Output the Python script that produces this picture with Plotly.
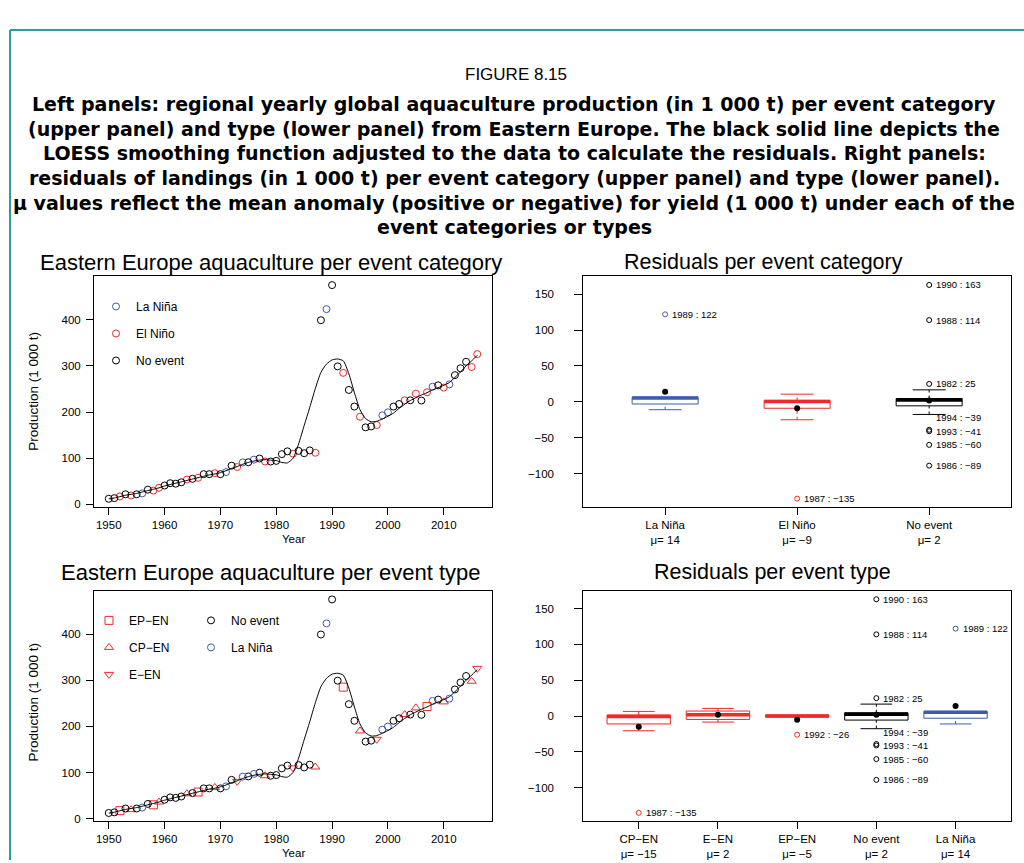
import plotly.graph_objects as go

FONT = "Liberation Sans, Arial, Helvetica, sans-serif"
CAPFONT = "DejaVu Sans, Liberation Sans, Arial, sans-serif"
W, H = 1024, 863
BLUE = "#3D5CB0"
RED = "#EE2A2A"
BLACK = "#000000"
TEAL = "#2E9E9A"

# ---------------- data ----------------
years = list(range(1950, 2017))
production = [12.3, 13.7, 17.3, 22.0, 19.5, 22.0, 24.0, 32.0, 30.0, 36.0,
              41.0, 46.0, 45.0, 48.0, 54.0, 55.5, 57.7, 65.6, 65.6, 67.7,
              65.6, 70.0, 84.0, 81.0, 91.0, 91.5, 97.0, 99.5, 93.0, 93.0,
              94.4, 109.0, 115.0, 110.0, 116.0, 111.0, 117.0, 112.0, 399.0, 423.0,
              475.0, 299.0, 285.0, 248.0, 212.0, 190.0, 167.0, 169.0, 172.0, 193.0,
              199.5, 212.0, 217.5, 225.5, 225.5, 240.0, 225.0, 243.0, 255.0, 258.0,
              253.0, 260.0, 280.0, 295.0, 309.0, 297.6, 325.6]
event_type = ["N", "N", "EP", "N", "CP", "N", "LN", "N", "EP", "CP",
              "N", "N", "N", "N", "CP", "N", "EP", "N", "N", "CP",
              "N", "LN", "N", "E", "LN", "N", "LN", "N", "CP", "N",
              "N", "N", "N", "E", "N", "N", "N", "CP", "N", "LN",
              "N", "N", "EP", "N", "N", "CP", "N", "N", "E", "LN",
              "LN", "N", "N", "CP", "N", "CP", "N", "EP", "LN", "N",
              "CP", "LN", "N", "N", "N", "CP", "E"]
loess_fit = [12, 14, 17, 20, 22, 24, 27, 30, 33, 36,
             40, 43, 46, 49, 52, 55, 58, 61, 64, 66,
             69, 73, 78, 82, 87, 91, 94, 96, 97, 96,
             95, 91, 90, 100, 131, 171, 210, 251, 286, 304,
             313, 315, 311, 283, 242, 205, 186, 179, 180, 185,
             191, 198, 208, 217, 225, 231, 237, 242, 248, 253,
             258, 264, 275, 287, 300, 311, 323]

type_names = {"EP": "EP\u2212EN", "CP": "CP\u2212EN", "E": "E\u2212EN",
              "N": "No event", "LN": "La Niña"}
type_to_category = {"EP": "El Niño", "CP": "El Niño", "E": "El Niño",
                    "N": "No event", "LN": "La Niña"}

# residual boxplots: per event category
cat_labels = ["La Niña", "El Niño", "No event"]
cat_q1 = [-3.0, -9.0, -5.6]
cat_median = [5.5, 0.5, 2.5]
cat_q3 = [6.5, 2.0, 4.6]
cat_lower = [-11.0, -25.0, -17.6]
cat_upper = [6.5, 10.7, 16.7]
cat_mean = [14, -9, 2]
cat_out_group = ["La Niña", "El Niño", "No event", "No event", "No event",
                 "No event", "No event", "No event", "No event"]
cat_out_year = [1989, 1987, 1990, 1988, 1982, 1994, 1993, 1985, 1986]
cat_out_value = [122, -135, 163, 114, 25, -39, -41, -60, -89]

# residual boxplots: per event type
typ_labels = ["CP\u2212EN", "E\u2212EN", "EP\u2212EN", "No event", "La Niña"]
typ_q1 = [-11.0, -4.7, -1.4, -5.6, -3.0]
typ_median = [-0.5, 1.8, 0.0, 2.5, 5.5]
typ_q3 = [1.5, 7.0, 1.4, 4.6, 6.5]
typ_lower = [-20.5, -8.4, -1.4, -17.6, -11.0]
typ_upper = [6.5, 10.7, 1.4, 16.7, 6.5]
typ_mean = [-15, 2, -5, 2, 14]
typ_out_group = ["CP\u2212EN", "EP\u2212EN", "No event", "No event", "No event",
                 "No event", "No event", "No event", "No event", "La Niña"]
typ_out_year = [1987, 1992, 1990, 1988, 1982, 1994, 1993, 1985, 1986, 1989]
typ_out_value = [-135, -26, 163, 114, 25, -39, -41, -60, -89, 122]

colors = {"La Niña": BLUE, "El Niño": RED, "No event": BLACK,
          "CP\u2212EN": RED, "E\u2212EN": RED, "EP\u2212EN": RED}
symbols = {"EP": "square-open", "CP": "triangle-up-open", "E": "triangle-down-open",
           "N": "circle-open", "LN": "circle-open"}


def mtxt(v):
    return str(v).replace("-", "\u2212")


def px(xp):
    return xp / W


def py(yp):
    return 1 - yp / H


fig = go.Figure()
ann = []

# ---------------- upper-left: per category ----------------
for cat in ["La Niña", "El Niño", "No event"]:
    idx = [i for i, t in enumerate(event_type) if type_to_category[t] == cat]
    fig.add_trace(go.Scatter(
        x=[years[i] for i in idx], y=[production[i] for i in idx],
        mode="markers", name=cat, legendgroup="c" + cat, legend="legend",
        marker=dict(symbol="circle-open", size=7, color=colors[cat], line=dict(width=1)),
        xaxis="x", yaxis="y"))
fig.add_trace(go.Scatter(x=years, y=loess_fit, mode="lines", showlegend=False,
                         line=dict(color=BLACK, width=1, shape="spline", smoothing=0.6),
                         xaxis="x", yaxis="y"))

# ---------------- lower-left: per type ----------------
for key, leg in [("EP", "legend2"), ("CP", "legend2"), ("E", "legend2"),
                 ("N", "legend3"), ("LN", "legend3")]:
    idx = [i for i, t in enumerate(event_type) if t == key]
    nm = type_names[key]
    col = colors[type_to_category[key]]
    fig.add_trace(go.Scatter(
        x=[years[i] for i in idx], y=[production[i] for i in idx],
        mode="markers", name=nm, legendgroup="t" + key, legend=leg,
        marker=dict(symbol=symbols[key], size=7 if key in ("N", "LN") else 8,
                    color=col, line=dict(width=1)),
        xaxis="x3", yaxis="y3"))
fig.add_trace(go.Scatter(x=years, y=loess_fit, mode="lines", showlegend=False,
                         line=dict(color=BLACK, width=1, shape="spline", smoothing=0.6),
                         xaxis="x3", yaxis="y3"))


# ---------------- residual boxplots ----------------
def add_boxes(labels, q1, med, q3, lo, hi, mean, out_g, out_y, out_v, bw, xa, ya):
    pos = list(range(1, len(labels) + 1))
    for i, lab in enumerate(labels):
        c = colors[lab]
        # dashed whiskers and solid staples (R boxplot style)
        for a, b in ((q3[i], hi[i]), (lo[i], q1[i])):
            if b > a:
                fig.add_trace(go.Scatter(
                    x=[pos[i], pos[i]], y=[a, b], mode="lines",
                    line=dict(color=c, width=1, dash="3px,3px"), showlegend=False,
                    hoverinfo="skip", xaxis=xa, yaxis=ya))
        for v in (lo[i], hi[i]):
            if v < q1[i] or v > q3[i]:
                fig.add_trace(go.Scatter(
                    x=[pos[i] - bw / 4, pos[i] + bw / 4], y=[v, v], mode="lines",
                    line=dict(color=c, width=1), showlegend=False,
                    hoverinfo="skip", xaxis=xa, yaxis=ya))
        fig.add_trace(go.Box(
            x=[pos[i]], q1=[q1[i]], median=[med[i]], q3=[q3[i]],
            lowerfence=[q1[i]], upperfence=[q3[i]], width=bw, whiskerwidth=0,
            fillcolor="white", line=dict(color=c, width=1), boxpoints=False,
            showlegend=False, hoverinfo="skip", xaxis=xa, yaxis=ya))
        fig.add_trace(go.Scatter(
            x=[pos[i] - bw / 2, pos[i] + bw / 2], y=[med[i], med[i]], mode="lines",
            line=dict(color=c, width=3.5), showlegend=False, xaxis=xa, yaxis=ya))
    fig.add_trace(go.Scatter(
        x=pos, y=mean, mode="markers", marker=dict(color=BLACK, size=6),
        showlegend=False, xaxis=xa, yaxis=ya))
    ox = [pos[labels.index(g)] for g in out_g]
    fig.add_trace(go.Scatter(
        x=ox, y=out_v, mode="markers",
        marker=dict(symbol="circle-open", size=5, color=[colors[g] for g in out_g],
                    line=dict(width=1)),
        showlegend=False, xaxis=xa, yaxis=ya))
    for xx, yy, v in zip(ox, out_y, out_v):
        ann.append(dict(text="%d : %s" % (yy, mtxt(v)), x=xx, y=v, xref=xa, yref=ya,
                        showarrow=False, xanchor="left", yanchor="middle", xshift=5,
                        yshift={1994: 12}.get(yy, 0),
                        font=dict(family=FONT, size=9.5, color=BLACK)))


add_boxes(cat_labels, cat_q1, cat_median, cat_q3, cat_lower, cat_upper, cat_mean,
          cat_out_group, cat_out_year, cat_out_value, 0.5, "x2", "y2")
add_boxes(typ_labels, typ_q1, typ_median, typ_q3, typ_lower, typ_upper, typ_mean,
          typ_out_group, typ_out_year, typ_out_value, 0.8, "x4", "y4")

# ---------------- axes ----------------
axis_common = dict(showline=True, mirror=True, linecolor=BLACK, linewidth=1,
                   ticks="outside", tickcolor=BLACK, tickwidth=1, showgrid=False,
                   zeroline=False, tickfont=dict(family=FONT, size=11.5, color=BLACK))

dom_left = [px(94), px(492)]
dom_right = [px(583.3), px(1011)]
dom_top = [py(509), py(277.3)]
dom_bot = [py(824.3), py(592.7)]

year_ticks = list(range(1950, 2011, 10))
fig.update_layout(
    xaxis=dict(domain=dom_left, anchor="y", range=[1947.36, 2018.64], tickvals=year_ticks,
               ticklen=7, **axis_common),
    yaxis=dict(domain=dom_top, anchor="x", range=[-6, 494], tickvals=[0, 100, 200, 300, 400],
               ticklen=7, ticklabelstandoff=3, **axis_common),
    xaxis3=dict(domain=dom_left, anchor="y3", range=[1947.36, 2018.64], tickvals=year_ticks,
                ticklen=7, **axis_common),
    yaxis3=dict(domain=dom_bot, anchor="x3", range=[-6, 494], tickvals=[0, 100, 200, 300, 400],
                ticklen=7, ticklabelstandoff=3, **axis_common),
    xaxis2=dict(domain=dom_right, anchor="y2", range=[0.38, 3.62], tickvals=[1, 2, 3],
                ticktext=["%s<br>μ= %s" % (l, mtxt(m)) for l, m in zip(cat_labels, cat_mean)],
                ticklen=7, **axis_common),
    yaxis2=dict(domain=dom_top, anchor="x2", range=[-147, 175],
                tickvals=[-100, -50, 0, 50, 100, 150], ticklen=8, ticklabelstandoff=18,
                **axis_common),
    xaxis4=dict(domain=dom_right, anchor="y4", range=[0.3, 5.7], tickvals=[1, 2, 3, 4, 5],
                ticktext=["%s<br>μ= %s" % (l, mtxt(m)) for l, m in zip(typ_labels, typ_mean)],
                ticklen=7, **axis_common),
    yaxis4=dict(domain=dom_bot, anchor="x4", range=[-147, 175],
                tickvals=[-100, -50, 0, 50, 100, 150], ticklen=8, ticklabelstandoff=18,
                **axis_common),
)

leg_common = dict(xanchor="left", yanchor="top", bgcolor="rgba(0,0,0,0)",
                  font=dict(family=FONT, size=12, color=BLACK), tracegroupgap=8,
                  borderwidth=0)
fig.update_layout(
    legend=dict(x=px(96), y=py(293), **leg_common),
    legend2=dict(x=px(89), y=py(608), **leg_common),
    legend3=dict(x=px(191), y=py(608), **leg_common),
)

# ---------------- text ----------------
caption_lines = [
    "Left panels: regional yearly global aquaculture production (in 1 000 t) per event category",
    "(upper panel) and type (lower panel) from Eastern Europe. The black solid line depicts the",
    "LOESS smoothing function adjusted to the data to calculate the residuals. Right panels:",
    "residuals of landings (in 1 000 t) per event category (upper panel) and type (lower panel).",
    "μ values reflect the mean anomaly (positive or negative) for yield (1 000 t) under each of the",
    "event categories or types",
]
text_ann = [dict(text="FIGURE 8.15", x=px(516), y=py(75), font=dict(size=17, family=FONT))]
for k, line in enumerate(caption_lines):
    text_ann.append(dict(text="<b>" + line + "</b>", x=px(514), y=py(104.5 + 24.7 * k),
                         font=dict(size=19, family=CAPFONT)))
text_ann += [
    dict(text="Eastern Europe aquaculture per event category", x=px(271), y=py(263), font=dict(size=22)),
    dict(text="Residuals per event category", x=px(763), y=py(263), font=dict(size=21.5)),
    dict(text="Eastern Europe aquaculture per event type", x=px(271), y=py(574), font=dict(size=22)),
    dict(text="Residuals per event type", x=px(772), y=py(574), font=dict(size=21.5)),
    dict(text="Year", x=px(293), y=py(541), font=dict(size=11.5)),
    dict(text="Year", x=px(293), y=py(856), font=dict(size=11.5)),
    dict(text="Production (1 000 t)", x=px(34), y=py(393), font=dict(size=13.5), textangle=-90),
    dict(text="Production (1 000 t)", x=px(34), y=py(705), font=dict(size=13.5), textangle=-90),
]
for a in text_ann:
    a.update(xref="paper", yref="paper", showarrow=False, xanchor="center", yanchor="middle")
    a["font"].setdefault("family", FONT)
    a["font"].update(color=BLACK)
ann = text_ann + ann

shapes = [
    dict(type="line", xref="paper", yref="paper", x0=px(10), x1=1, y0=py(30), y1=py(30),
         line=dict(color=TEAL, width=2)),
    dict(type="line", xref="paper", yref="paper", x0=px(10), x1=px(10), y0=py(30), y1=0,
         line=dict(color=TEAL, width=2)),
]

fig.update_layout(
    width=W, height=H, margin=dict(l=0, r=0, t=0, b=0),
    paper_bgcolor="white", plot_bgcolor="white",
    annotations=ann, shapes=shapes, showlegend=True,
    font=dict(family=FONT, color=BLACK), boxmode="overlay",
)

fig.write_html("out.html", config={"displayModeBar": False},
               post_script="document.body.style.margin='0';document.body.style.overflow='hidden';")
